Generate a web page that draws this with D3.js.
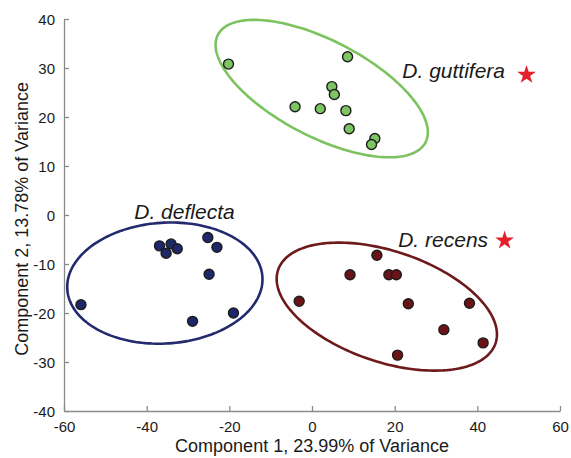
<!DOCTYPE html>
<html>
<head>
<meta charset="utf-8">
<script src="https://cdn.jsdelivr.net/npm/d3@7"></script>
<style>
  body { margin: 0; background: #fff; }
  text { font-family: "Liberation Sans", Arial, sans-serif; }
</style>
</head>
<body>
<div id="chart"></div>
<script>
var margin = {top: 19, right: 11, bottom: 47, left: 64},
    width = 571 - margin.left - margin.right,
    height = 458 - margin.top - margin.bottom;

// tick values
var xTicks = [-60, -40, -20, 0, 20, 40, 60];
var yTicks = [-40, -30, -20, -10, 0, 10, 20, 30, 40];

// species samples (component 1, component 2)
var guttiferaX = [-20.2, 8.6, 4.8, 5.4, -4.1, 2.0, 8.2, 9.0, 15.2, 14.4];
var guttiferaY = [30.8, 32.3, 26.2, 24.6, 22.1, 21.7, 21.3, 17.6, 15.6, 14.4];

var deflectaX = [-55.9, -36.9, -35.3, -34.1, -32.6, -25.2, -23.0, -24.9, -28.9, -19.0];
var deflectaY = [-18.3, -6.3, -7.8, -5.9, -6.9, -4.6, -6.6, -12.1, -21.7, -20.0];

var recensX = [-3.1, 9.2, 15.7, 18.6, 20.4, 23.3, 38.1, 31.9, 41.4, 20.7];
var recensY = [-17.6, -12.2, -8.2, -12.2, -12.2, -18.1, -18.0, -23.4, -26.1, -28.6];

// ellipses: centre and two conjugate semi-axes, in data units
var ellipseCenters = [[2.35, 25.8], [-35.6, -13.9], [18.1, -18.7]];
var ellipseAxisU = [[25.1, -11.0], [23.6, 1.3], [26.3, -7.5]];
var ellipseAxisV = [[-5.4, -8.7], [1.0, -12.3], [-4.3, -10.7]];

// reference species (stars)
var starNames = ["D. guttifera", "D. recens"];
var starX = [51.9, 46.6];
var starY = [28.6, -5.2];

// species labels: right end (stars) / left start (deflecta), baseline
var labelNames = ["D. guttifera", "D. recens", "D. deflecta"];
var labelX = [46.7, 42.6, -43.0];
var labelY = [28.0, -6.6, -0.8];
var labelAnchor = ["end", "end", "start"];

var fills = ["#7dc462", "#1e2767", "#6b1417"];
var strokes = ["#7cc35f", "#232a6e", "#6e1a1c"];

var svg = d3.select("#chart").append("svg")
    .attr("width", width + margin.left + margin.right)
    .attr("height", height + margin.top + margin.bottom);

var chart = svg.append("g")
    .attr("transform", "translate(" + margin.left + "," + margin.top + ")");

var x = d3.scaleLinear().domain([-60, 60]).range([0, width]);
var y = d3.scaleLinear().domain([-40, 40]).range([height, 0]);

// axes, ticks pointing inward, plain hyphen minus
var fmt = function(d) { return String(d); };
var xAxis = d3.axisBottom(x).tickValues(xTicks).tickFormat(fmt).tickSizeInner(-5).tickSizeOuter(0).tickPadding(10);
var yAxis = d3.axisLeft(y).tickValues(yTicks).tickFormat(fmt).tickSizeInner(-5).tickSizeOuter(0).tickPadding(9);

var gx = chart.append("g")
    .attr("transform", "translate(0," + height + ")")
    .call(xAxis);
var gy = chart.append("g").call(yAxis);

[gx, gy].forEach(function(g) {
  g.select(".domain").attr("stroke", "#8a8a8a").attr("stroke-width", 1.3);
  g.selectAll(".tick line").attr("stroke", "#8a8a8a").attr("stroke-width", 1.3);
  g.selectAll(".tick text")
    .attr("fill", "#1a1a1a")
    .style("font-size", "15px")
    .style("font-family", "'Liberation Sans', Arial, sans-serif");
});
gy.selectAll(".tick text").attr("dy", "0.36em");

// ellipses
var line = d3.line()
    .x(function(d) { return x(d[0]); })
    .y(function(d) { return y(d[1]); })
    .curve(d3.curveLinearClosed);

ellipseCenters.forEach(function(c, i) {
  var u = ellipseAxisU[i], v = ellipseAxisV[i];
  var pts = d3.range(0, 2 * Math.PI, Math.PI / 90).map(function(t) {
    return [c[0] + u[0] * Math.cos(t) + v[0] * Math.sin(t),
            c[1] + u[1] * Math.cos(t) + v[1] * Math.sin(t)];
  });
  chart.append("path")
    .attr("d", line(pts))
    .attr("fill", "none")
    .attr("stroke", strokes[i])
    .attr("stroke-width", 2.6);
});

// points
var groups = [[guttiferaX, guttiferaY], [deflectaX, deflectaY], [recensX, recensY]];
groups.forEach(function(g, i) {
  chart.selectAll(".pt" + i)
    .data(d3.range(g[0].length))
    .enter()
    .append("circle")
    .attr("class", "pt" + i)
    .attr("cx", function(d) { return x(g[0][d]); })
    .attr("cy", function(d) { return y(g[1][d]); })
    .attr("r", 5)
    .attr("fill", fills[i])
    .attr("stroke", "#1c1c1c")
    .attr("stroke-width", 1.4);
});

// stars
chart.selectAll(".star")
  .data(starNames)
  .enter()
  .append("path")
  .attr("class", "star")
  .attr("d", d3.symbol().type(d3.symbolStar).size(110))
  .attr("transform", function(d, i) { return "translate(" + x(starX[i]) + "," + y(starY[i]) + ")"; })
  .attr("fill", "#e41f2b");

// species labels
chart.selectAll(".label")
  .data(labelNames)
  .enter()
  .append("text")
  .attr("class", "label")
  .attr("x", function(d, i) { return x(labelX[i]); })
  .attr("y", function(d, i) { return y(labelY[i]); })
  .attr("text-anchor", function(d, i) { return labelAnchor[i]; })
  .style("font-size", "21px")
  .style("font-style", "italic")
  .attr("fill", "#1a1a1a")
  .text(function(d) { return d; });

// axis titles
chart.append("text")
  .attr("x", width / 2)
  .attr("y", height + 41)
  .attr("text-anchor", "middle")
  .style("font-size", "18px")
  .attr("fill", "#1a1a1a")
  .text("Component 1, 23.99% of Variance");

chart.append("text")
  .attr("transform", "rotate(-90)")
  .attr("x", -(y(0) + y(-1.6)) / 2 + 0)
  .attr("y", -36)
  .attr("text-anchor", "middle")
  .style("font-size", "18px")
  .attr("fill", "#1a1a1a")
  .text("Component 2, 13.78% of Variance");
</script>
</body>
</html>
